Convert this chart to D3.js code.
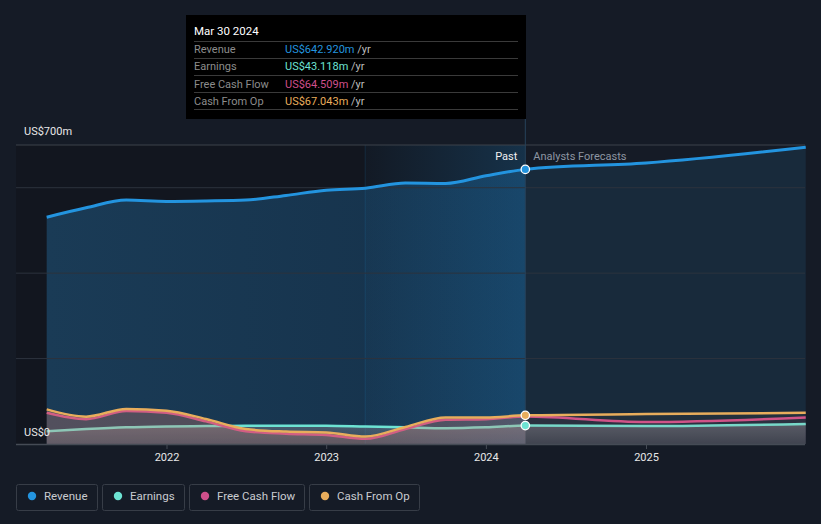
<!DOCTYPE html>
<html><head><meta charset="utf-8">
<script src="https://cdn.jsdelivr.net/npm/d3@7"></script>
<style>
html,body{margin:0;padding:0;background:#151b26;}
svg{display:block;font-family:Roboto,"Noto Sans",sans-serif;}
</style></head>
<body>
<svg id="c" width="821" height="524"></svg>
<script>
// ---- data ----
const pastDates = ["2021-04-01","2021-06-30","2021-09-30","2021-12-31","2022-03-31","2022-06-30","2022-09-30","2022-12-31","2023-03-31","2023-06-30","2023-09-30","2023-12-31","2024-03-30"];
const revenuePast  = [531,553,571,568,569,571,582,594,599,611,610,628,642.92];
const earningsPast = [30,35,39,41,42,43,43,43,41,39,37,39,43.118];
const fcfPast      = [73,58,77,73,53,30,24,21,12,35,57,58,64.509];
const cfoPast      = [81,64,82,78,58.5,35,29,27,17.5,40,62,62,67.043];
const fcDates = ["2024-03-30","2024-12-31","2025-12-31"];
const revenueFc  = [642.92,658,695];
const earningsFc = [43.118,42,47];
const fcfFc      = [64.509,51.5,62];
const cfoFc      = [67.043,70,73];
const yearTicks = ["2022","2023","2024","2025"];
const yTickLabels = [{v:0,t:"US$0"},{v:700,t:"US$700m"}];
const gridVals = [200,400,600];
const seriesNames = ["Revenue","Earnings","Free Cash Flow","Cash From Op"];
const seriesColors = ["#2394df","#6de3d3","#cf4f8b","#e8ad5c"];
const tipDate = "Mar 30 2024";
const tipValues = ["US$642.920m","US$43.118m","US$64.509m","US$67.043m"];

const parse = d3.timeParse("%Y-%m-%d");
const svg = d3.select("#c");
const L = 16, R = 805, T = 145, B = 444;
const x = d3.scaleTime().domain([parse("2022-01-01"), parse("2025-01-01")]).range([167, 646.5]);
const y = d3.scaleLinear().domain([0,700]).range([B, T]);
const pd = pastDates.map(parse), fd = fcDates.map(parse);
const mk = (dates, vals) => dates.map((d,i)=>({d, v: vals[i]}));
const xNow = x(pd[pd.length-1]);
const xHi = x(parse("2023-03-30"));

const defs = svg.append("defs");
function lg(id, stops, x1=0,y1=0,x2=0,y2=1){
  const g = defs.append("linearGradient").attr("id",id).attr("x1",x1).attr("y1",y1).attr("x2",x2).attr("y2",y2);
  stops.forEach(s=>g.append("stop").attr("offset",s[0]).attr("stop-color",s[1]).attr("stop-opacity",s[2]));
}
lg("revPast",[[0,"#1a3b56",1],[1,"#15314a",1]],0,0,1,0);
lg("hi",[[0,"#2394df",0.03],[1,"#2394df",0.22]],0,0,1,0);
lg("grey",[[0,"#8a8f96",0.45],[1,"#8a8f96",0.2]]);

// past dark rect
svg.append("rect").attr("x",L).attr("y",T).attr("width",xNow-L).attr("height",B-T).attr("fill","#12161f");

const curve = d3.curveMonotoneX;
const area = d3.area().x(p=>x(p.d)).y0(B).y1(p=>y(p.v)).curve(curve);
const line = d3.line().x(p=>x(p.d)).y(p=>y(p.v)).curve(curve);

// revenue areas
svg.append("path").attr("d",area(mk(pd,revenuePast))).attr("fill","url(#revPast)");
svg.append("path").attr("d",area(mk(fd,revenueFc))).attr("fill","#182a3b");
// highlight
svg.append("rect").attr("x",xHi).attr("y",T).attr("width",xNow-xHi).attr("height",B-T).attr("fill","url(#hi)");
svg.append("line").attr("x1",xHi).attr("x2",xHi).attr("y1",T).attr("y2",B).attr("stroke","#2394df").attr("stroke-opacity",0.15);

// grid
gridVals.forEach(v=>svg.append("line").attr("x1",L).attr("x2",R).attr("y1",y(v)).attr("y2",y(v)).attr("stroke","#2c333d").attr("stroke-width",1));
svg.append("line").attr("x1",L).attr("x2",R).attr("y1",T).attr("y2",T).attr("stroke","#3c424b");

// crosshair
svg.append("line").attr("x1",xNow).attr("x2",xNow).attr("y1",119).attr("y2",B).attr("stroke","#27415a").attr("stroke-width",1);

// lower series: earnings, fcf, cfo
const lower = [
  {past:earningsPast, fc:earningsFc, c:seriesColors[1]},
  {past:fcfPast, fc:fcfFc, c:seriesColors[2]},
  {past:cfoPast, fc:cfoFc, c:seriesColors[3]}
];
lower.forEach((s,i)=>{
  const all = mk(pd,s.past).concat(mk(fd,s.fc).slice(1));
  if(i===0){
    svg.append("path").attr("d",area(all)).attr("fill","url(#grey)");
  } else {
    svg.append("path").attr("d",area(mk(pd,s.past))).attr("fill",s.c).attr("fill-opacity",0.16);
    svg.append("path").attr("d",area(mk(fd,s.fc))).attr("fill",s.c).attr("fill-opacity",0.05);
  }
  svg.append("path").attr("d",line(all)).attr("fill","none").attr("stroke",s.c).attr("stroke-width",2.5);
});

// revenue line
svg.append("path").attr("d",line(mk(pd,revenuePast).concat(mk(fd,revenueFc).slice(1)))).attr("fill","none").attr("stroke",seriesColors[0]).attr("stroke-width",3);

// dots
[[revenuePast,0],[earningsPast,1],[cfoPast,3]].forEach(([arr,ci])=>{
  svg.append("circle").attr("cx",xNow).attr("cy",y(arr[arr.length-1])).attr("r",4.2)
    .attr("fill",seriesColors[ci]).attr("stroke","#fff").attr("stroke-width",1.3);
});

// baseline & x axis
svg.append("line").attr("x1",L).attr("x2",R).attr("y1",B+0.5).attr("y2",B+0.5).attr("stroke","#454b55").attr("stroke-width",1.5);
yearTicks.forEach(t=>{
  const xx = x(parse(t+"-01-01"));
  svg.append("line").attr("x1",xx).attr("x2",xx).attr("y1",B).attr("y2",B+5).attr("stroke","#454b55");
  svg.append("text").attr("x",xx).attr("y",461).attr("text-anchor","middle").attr("fill","#e8e8e8").attr("font-size",11).text(t);
});
// y labels
yTickLabels.forEach(o=>{
  svg.append("text").attr("x",24).attr("y",o.v===0?436:135).attr("fill","#e8e8e8").attr("font-size",11).text(o.t);
});

// Past / Forecast
svg.append("text").attr("x",xNow-8).attr("y",160).attr("text-anchor","end").attr("fill","#f0f0f0").attr("font-size",11).text("Past");
svg.append("text").attr("x",xNow+8).attr("y",160).attr("fill","#8d96a2").attr("font-size",11).text("Analysts Forecasts");

// tooltip
const tg = svg.append("g");
tg.append("rect").attr("x",186).attr("y",15).attr("width",340).attr("height",104).attr("fill","#000");
tg.append("text").attr("x",194).attr("y",35).attr("fill","#fff").attr("font-size",11.5).text(tipDate);
[41.5,58.5,75.5,92.5,109.5].forEach(yy=>tg.append("line").attr("x1",194).attr("x2",518).attr("y1",yy).attr("y2",yy).attr("stroke","#3a3a3a"));
seriesNames.forEach((n,i)=>{
  const yy = 53 + i*17.3;
  tg.append("text").attr("x",194).attr("y",yy).attr("fill","#8c8c8c").attr("font-size",11).text(n);
  const t = tg.append("text").attr("x",285).attr("y",yy).attr("font-size",11);
  t.append("tspan").attr("fill",seriesColors[i]).text(tipValues[i]);
  t.append("tspan").attr("fill","#bdbdbd").text(" /yr");
});

// legend
let lx = 16;
const lgW = [81,82,115,110];
seriesNames.forEach((n,i)=>{
  const g = svg.append("g");
  g.append("rect").attr("x",lx+0.5).attr("y",484.5).attr("width",lgW[i]).attr("height",26).attr("rx",2).attr("fill","none").attr("stroke","#373d47");
  g.append("circle").attr("cx",lx+16).attr("cy",496).attr("r",4.2).attr("fill",seriesColors[i]);
  g.append("text").attr("x",lx+28).attr("y",500).attr("fill","#c9cbd0").attr("font-size",11.5).text(n);
  lx += lgW[i] + 5;
});
</script>
</body></html>
